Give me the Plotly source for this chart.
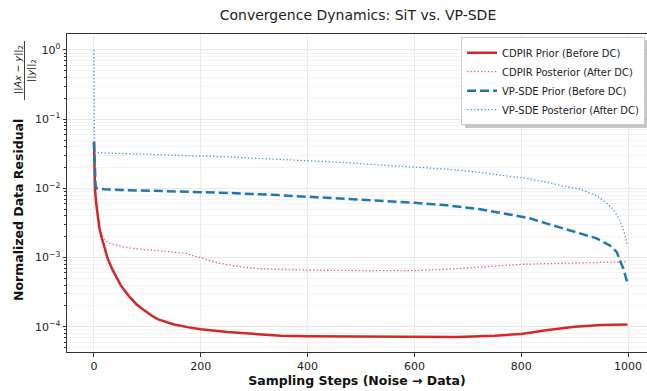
import plotly.graph_objects as go

FONT = "DejaVu Sans"

# ---- data ----
cdpir_prior_steps = [0, 1, 2, 4, 7, 10, 14, 20, 26, 35, 50, 65, 80, 90, 100, 110, 120, 135, 150,
                     175, 200, 250, 300, 350, 400, 500, 600, 680, 750, 800, 850, 900, 950, 999]
cdpir_prior_vals = [0.047, 0.016, 0.0095, 0.0063, 0.0038, 0.0027, 0.0020, 0.00135, 0.00095,
                    0.00066, 0.00040, 0.00028, 0.00021, 0.000183, 0.000160, 0.000142, 0.000128,
                    0.000117, 0.000108, 0.000099, 0.000092, 0.000084, 0.000078, 0.000074,
                    0.000073, 0.000072, 0.000071, 0.000071, 0.000074, 0.000079, 0.000090,
                    0.000100, 0.000106, 0.000108]

cdpir_post_steps = [0, 1, 2, 4, 7, 10, 14, 20, 30, 45, 60, 77, 96, 120, 145, 171, 195, 215,
                    232, 255, 277, 310, 358, 400, 500, 600, 650, 700, 750, 800, 850, 900, 950, 999]
cdpir_post_vals = [0.047, 0.016, 0.0095, 0.0063, 0.0040, 0.0029, 0.0022, 0.0018, 0.0016, 0.0015,
                   0.0014, 0.00135, 0.0013, 0.00125, 0.00121, 0.00115, 0.00102, 0.00092, 0.00084,
                   0.00078, 0.00073, 0.00069, 0.00067, 0.00066, 0.00065, 0.00065, 0.00067,
                   0.00071, 0.00076, 0.00080, 0.00082, 0.00083, 0.00084, 0.00087]

vpsde_prior_steps = [0, 1, 2, 3, 5, 20, 50, 100, 170, 250, 345, 400, 473, 535, 600, 661, 723,
                     785, 816, 848, 880, 910, 941, 966, 979, 985, 991, 995, 999]
vpsde_prior_vals = [0.047, 0.025, 0.014, 0.011, 0.0100, 0.0097, 0.0095, 0.0093, 0.0090, 0.0086,
                    0.0080, 0.0076, 0.0070, 0.0066, 0.0062, 0.0057, 0.0050, 0.0041, 0.0037,
                    0.0031, 0.0026, 0.0022, 0.0019, 0.0015, 0.0012, 0.0009, 0.0007, 0.00055,
                    0.00042]

vpsde_post_steps = [0, 1, 7, 50, 100, 170, 250, 345, 473, 535, 597, 660, 723, 785, 816, 850,
                    878, 910, 941, 960, 972, 982, 990, 995, 999]
vpsde_post_vals = [1.0, 0.034, 0.0328, 0.032, 0.031, 0.0304, 0.0285, 0.0263, 0.0236, 0.0218,
                   0.0206, 0.019, 0.017, 0.0145, 0.0137, 0.0122, 0.0108, 0.0098, 0.0078,
                   0.0062, 0.0050, 0.0038, 0.0027, 0.0020, 0.0015]

series_names = ["CDPIR Prior (Before DC)", "CDPIR Posterior (After DC)",
                "VP-SDE Prior (Before DC)", "VP-SDE Posterior (After DC)"]

y_tick_vals = [1, 0.1, 0.01, 0.001, 0.0001]
y_tick_text = ["10<sup>0</sup>", "10<sup>−1</sup>", "10<sup>−2</sup>", "10<sup>−3</sup>", "10<sup>−4</sup>"]
y_minor_vals = [m * 10.0 ** e for e in range(-5, 1) for m in range(2, 10)]
x_tick_vals = [0, 200, 400, 600, 800, 1000]

fig = go.Figure()
fig.add_trace(go.Scatter(x=cdpir_prior_steps, y=cdpir_prior_vals, mode="lines", name=series_names[0],
                         line=dict(color="#d62728", width=2.5)))
fig.add_trace(go.Scatter(x=cdpir_post_steps, y=cdpir_post_vals, mode="lines", name=series_names[1],
                         line=dict(color="rgba(214,39,40,0.75)", width=1.3, dash="1.3px,2.2px")))
fig.add_trace(go.Scatter(x=vpsde_prior_steps, y=vpsde_prior_vals, mode="lines", name=series_names[2],
                         line=dict(color="#1f77b4", width=2.5, dash="9px,4px")))
fig.add_trace(go.Scatter(x=vpsde_post_steps, y=vpsde_post_vals, mode="lines", name=series_names[3],
                         line=dict(color="rgba(31,119,180,0.8)", width=1.3, dash="1.3px,2.2px")))

axis_col = "#333333"
PW, PH, ML, MT = 580, 318, 67, 34
fig.update_layout(
    width=647, height=391,
    margin=dict(l=ML, r=0, t=MT, b=39, autoexpand=False),
    paper_bgcolor="white", plot_bgcolor="white",
    font=dict(family=FONT, size=11, color="#222222"),
    title=dict(text="Convergence Dynamics: SiT vs. VP-SDE", x=358 / 647, xanchor="center",
               y=1 - 15 / 391, yanchor="middle", font=dict(family=FONT, size=14, color="#222222")),
    showlegend=True,
    legend=dict(x=0.9966, xanchor="right", y=0.99, yanchor="top",
                bgcolor="white", bordercolor="#cccccc", borderwidth=1,
                font=dict(family=FONT, size=10, color="#222222"), tracegroupgap=0),
    xaxis=dict(range=[-50.5, 1035.5], tickvals=x_tick_vals, ticks="outside", ticklen=3.5,
               tickcolor=axis_col, showline=True, linecolor=axis_col, linewidth=1, mirror=True,
               showgrid=True, gridcolor="#ebebeb", gridwidth=0.8, zeroline=False, automargin=False,
               title=dict(text="<b>Sampling Steps (Noise → Data)</b>", standoff=4,
                          font=dict(family=FONT, size=12.5, color="#111111"))),
    yaxis=dict(type="log", range=[-4.364, 0.231], tickvals=y_tick_vals, ticktext=y_tick_text,
               ticks="outside", ticklen=3.5, tickcolor=axis_col, showline=True, linecolor=axis_col,
               linewidth=1, showgrid=True, gridcolor="#e8e8e8", gridwidth=0.8, zeroline=False,
               automargin=False,
               minor=dict(tickvals=y_minor_vals, ticks="outside", ticklen=2, tickcolor=axis_col,
                          showgrid=True, gridcolor="#f3f3f3", gridwidth=0.8)),
)

# legend drop shadow (matplotlib shadow=True look)
fig.add_shape(type="rect", xref="paper", yref="paper", layer="above",
              x0=(465 - ML) / PW, x1=(650 - ML) / PW, y0=1 - (128 - MT) / PH, y1=1 - (40 - MT) / PH,
              line=dict(width=0), fillcolor="rgba(130,130,130,0.45)")

# y-axis label: bold text plus a rotated fraction
fig.add_annotation(text="<b>Normalized Data Residual</b>", textangle=-90, xref="paper", yref="paper",
                   x=-(ML - 18) / PW, y=1 - (210 - MT) / PH, xanchor="center", yanchor="middle",
                   showarrow=False, font=dict(family=FONT, size=12.5, color="#111111"))
fig.add_annotation(text="||<i>Ax</i> − <i>y</i>||<sub>2</sub>", textangle=-90, xref="paper", yref="paper",
                   x=-(ML - 18) / PW, y=1 - (70 - MT) / PH, xanchor="center", yanchor="middle",
                   showarrow=False, font=dict(family=FONT, size=9.5, color="#111111"))
fig.add_annotation(text="||<i>y</i>||<sub>2</sub>", textangle=-90, xref="paper", yref="paper",
                   x=-(ML - 31) / PW, y=1 - (71 - MT) / PH, xanchor="center", yanchor="middle",
                   showarrow=False, font=dict(family=FONT, size=9.5, color="#111111"))
fig.add_shape(type="line", xref="paper", yref="paper", x0=-(ML - 24.5) / PW, x1=-(ML - 24.5) / PW,
              y0=1 - (41 - MT) / PH, y1=1 - (100 - MT) / PH, line=dict(color="#111111", width=0.8))

fig.write_html("out.html", config={"displayModeBar": False},
               post_script="document.body.style.margin='0';document.body.style.overflow='hidden';")
